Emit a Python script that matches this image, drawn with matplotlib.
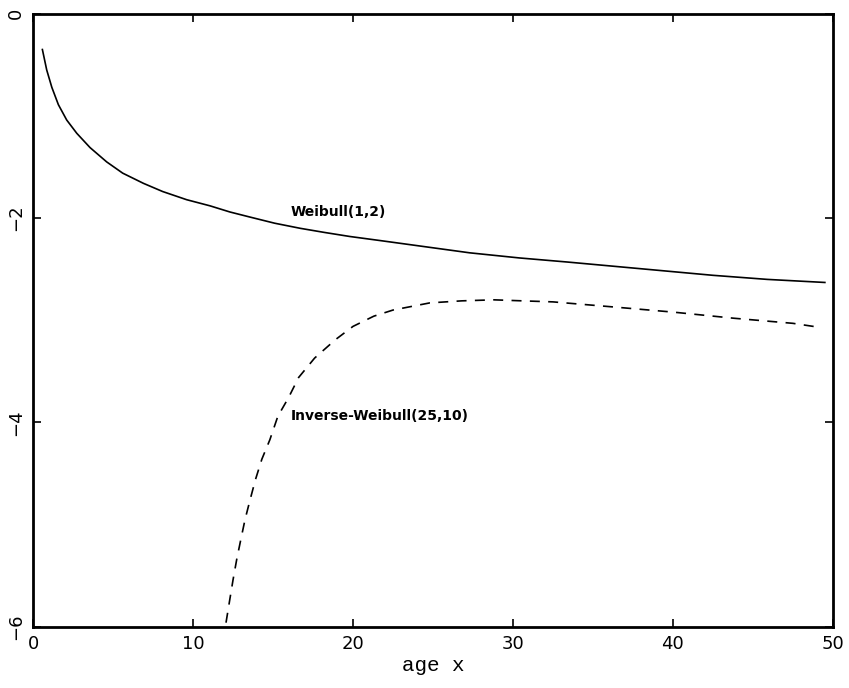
import matplotlib
matplotlib.use('Agg')
from matplotlib import pyplot as plt

# log hazard
weibull_x = [0.58, 0.85, 1.17, 1.58, 2.1, 2.73, 3.56, 4.6, 5.6, 6.9, 8.1, 9.6,
             11.06, 12.3, 13.56, 15.1, 16.7, 18.2, 19.8, 21.7, 24.5, 27.3, 30.4,
             33.4, 36.2, 39.0, 42.5, 45.9, 49.5]
weibull_y = [-0.35, -0.55, -0.72, -0.89, -1.04, -1.17, -1.31, -1.45, -1.56, -1.66,
             -1.74, -1.82, -1.88, -1.94, -1.99, -2.05, -2.10, -2.14, -2.18, -2.22,
             -2.28, -2.34, -2.39, -2.43, -2.47, -2.51, -2.56, -2.60, -2.63]

invw_x = [12.06, 12.3, 12.5, 12.73, 12.98, 13.25, 13.56, 13.9, 14.3, 14.8, 15.3,
          15.96, 16.6, 17.6, 18.9, 20.0, 21.3, 22.5, 24.8, 26.8, 28.8, 30.6, 32.5,
          36.3, 40.0, 43.8, 47.5, 49.2]
invw_y = [-5.96, -5.73, -5.54, -5.34, -5.15, -4.95, -4.76, -4.56, -4.36, -4.17,
          -3.94, -3.76, -3.56, -3.37, -3.19, -3.06, -2.96, -2.90, -2.83, -2.81,
          -2.80, -2.81, -2.82, -2.87, -2.92, -2.98, -3.03, -3.07]

fig = plt.figure(figsize=(8.49, 6.88), dpi=100)
ax = fig.add_axes([0.039, 0.089, 0.942, 0.891])

ax.plot(weibull_x, weibull_y, color='black', lw=1.2)
ax.plot(invw_x, invw_y, color='black', lw=1.2, linestyle=(0, (6, 5)))

ax.text(16.1, -1.94, 'Weibull(1,2)', fontsize=10, fontweight='bold', va='center',
        family='DejaVu Sans')
ax.text(16.1, -3.94, 'Inverse-Weibull(25,10)', fontsize=10, fontweight='bold', va='center',
        family='DejaVu Sans')

ax.set_xlim(0, 50)
ax.set_ylim(-6, 0)
ax.set_xticks([0, 10, 20, 30, 40, 50])
ax.set_yticks([-6, -4, -2, 0])
ax.set_yticklabels(['\u22126', '\u22124', '\u22122', '0'], rotation=90, va='center')
ax.tick_params(direction='in', length=6, width=1.2, labelsize=13,
               top=True, right=True, pad=6)
for s in ax.spines.values():
    s.set_linewidth(2)

ax.set_xlabel('age x', fontsize=15, family='Liberation Mono', labelpad=2)

fig.savefig('out.png', dpi=100)
